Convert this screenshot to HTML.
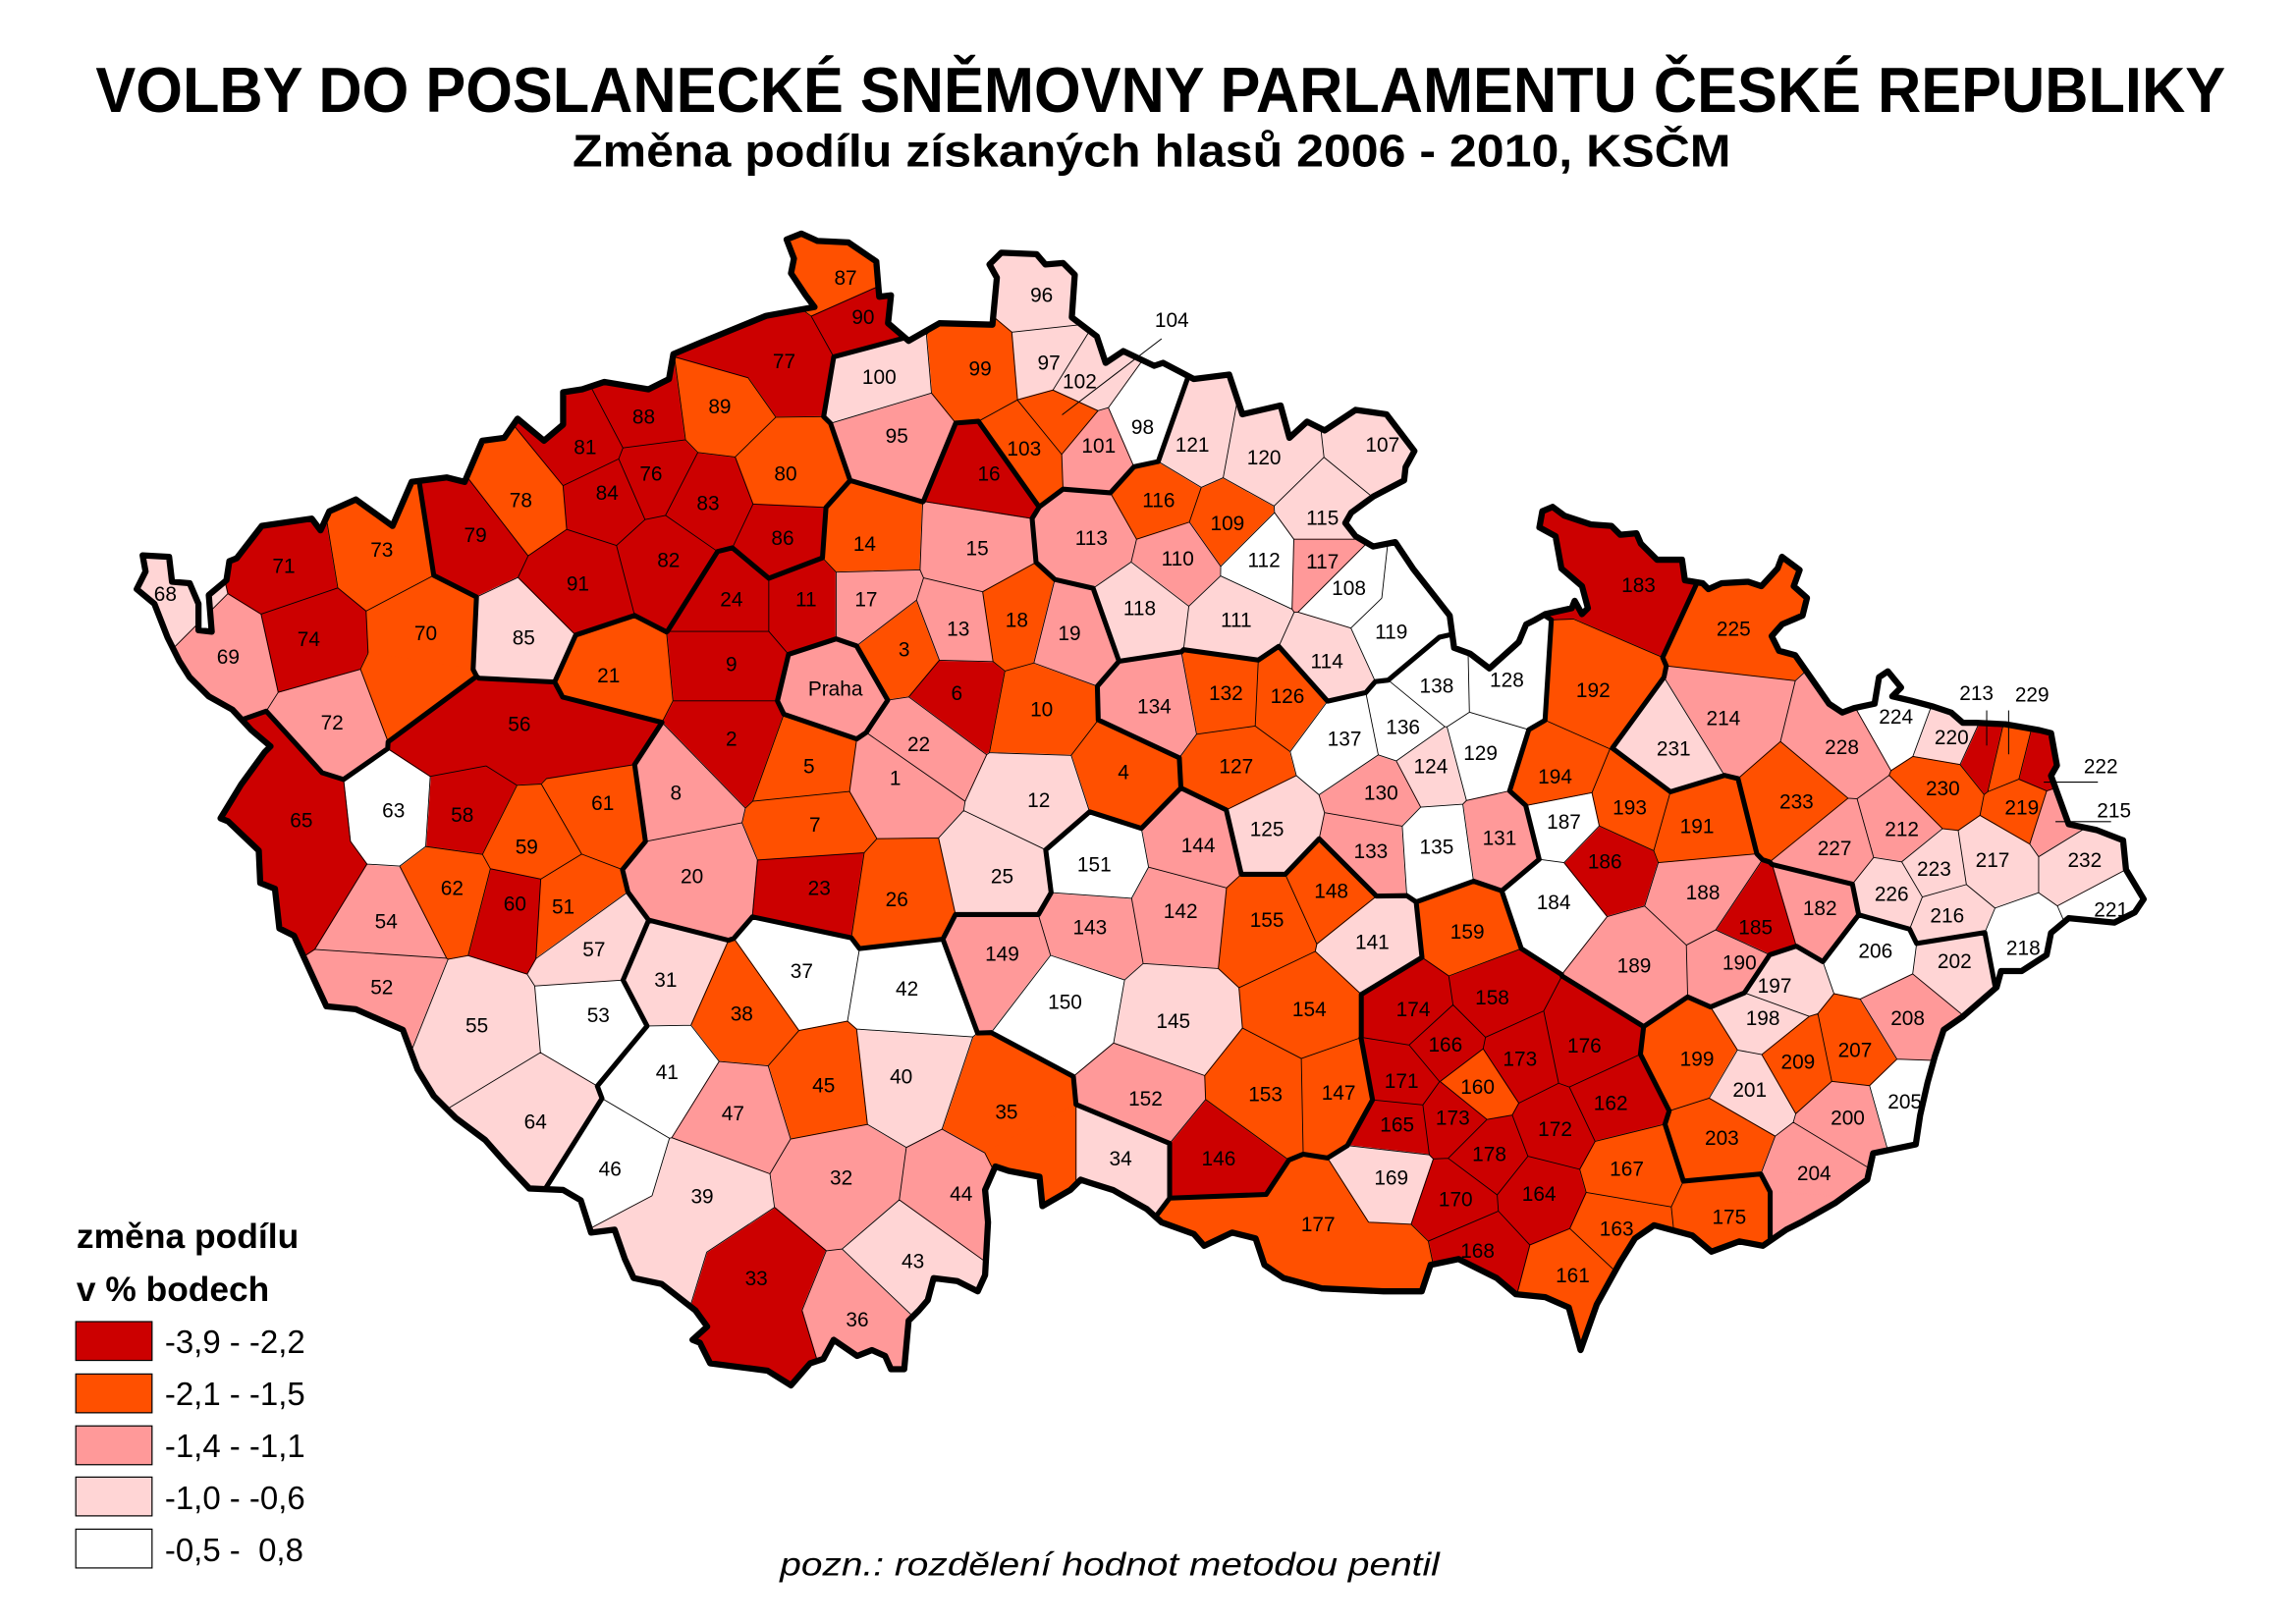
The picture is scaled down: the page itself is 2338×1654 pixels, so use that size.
<!DOCTYPE html>
<html><head><meta charset="utf-8"><style>
html,body{margin:0;padding:0;background:#fff;}
svg{display:block;}
text{font-family:"Liberation Sans",Arial,sans-serif;}
</style></head><body>
<svg id="m" width="2338" height="1654" viewBox="0 0 1560 1101" preserveAspectRatio="none" xmlns="http://www.w3.org/2000/svg">
<defs>
<clipPath id="cc"><polygon transform="matrix(1.005 0 0 1.004 0 -0.5)" points="97,377 115,378 117,395 129,396 135,410 135,428 144,429 142,404 154,394 156,381 161,379 178,357 212,352 218,360 224,347 242,339 267,357 280,327 304,324 316,327 328,299 343,297 352,284 370,299 383,288 383,266 396,264 411,259 441,264 455,257 458,240 477,232 521,214 554,208 548,200 538,185 540,175 535,162 545,158 556,163 577,164 596,177 598,201 606,200 604,219 618,231 639,219 675,220 678,188 673,179 681,171 705,172 711,179 723,178 731,186 729,215 746,228 752,246 764,238 785,248 791,246 812,257 836,254 845,281 871,275 877,297 889,286 901,292 922,278 943,281 962,306 956,317 955,326 934,337 919,348 915,355 922,364 934,371 949,368 961,386 986,418 989,440 1000,444 1013,454 1033,436 1038,424 1044,421 1051,417 1069,413 1071,408 1076,417 1080,413 1076,398 1062,386 1058,364 1047,358 1049,347 1056,344 1064,350 1082,356 1096,357 1102,363 1113,362 1116,369 1127,380 1144,380 1146,394 1158,396 1162,400 1171,396 1189,395 1198,398 1209,386 1212,378 1224,387 1220,398 1229,406 1226,418 1212,424 1205,432 1210,442 1221,445 1244,478 1253,484 1261,481 1275,478 1278,460 1284,456 1293,467 1287,473 1300,476 1315,480 1327,484 1335,491 1344,491 1364,492 1387,496 1395,498 1399,520 1395,527 1407,560 1426,564 1444,571 1446,591 1458,611 1452,620 1438,627 1407,624 1395,634 1392,649 1375,660 1361,660 1358,671 1335,691 1322,700 1316,718 1311,736 1306,758 1303,778 1274,784 1270,802 1248,818 1225,831 1215,836 1199,847 1183,844 1164,851 1151,840 1125,833 1112,842 1102,858 1086,887 1075,918 1067,889 1051,882 1031,880 1018,869 992,856 973,860 967,878 941,878 899,876 873,869 860,860 854,842 838,838 819,847 812,839 790,831 780,822 757,809 741,804 735,802 728,809 709,820 707,800 686,796 677,793 670,809 672,831 670,867 665,878 651,871 635,869 631,884 625,891 618,898 615,931 606,931 602,922 593,918 583,922 567,911 560,924 551,927 538,942 522,932 483,927 476,913 471,911 481,902 473,891 450,873 431,869 425,856 418,836 402,838 395,816 383,809 360,808 345,792 330,775 310,760 295,745 284,727 274,700 258,693 242,686 222,684 216,671 200,636 190,631 187,604 177,600 176,578 155,558 150,556 164,533 180,511 184,507 171,496 158,482 142,473 129,460 122,449 114,433 105,410 93,400 99,388"/></clipPath>
</defs>
<rect x="0" y="0" width="1560" height="1101" fill="#fff"/>

<text x="65" y="76" font-size="43" font-weight="bold" textLength="1447" lengthAdjust="spacingAndGlyphs">VOLBY DO POSLANECKÉ SNĚMOVNY PARLAMENTU ČESKÉ REPUBLIKY</text>
<text x="389" y="113" font-size="31" font-weight="bold" textLength="787" lengthAdjust="spacingAndGlyphs">Změna podílu získaných hlasů 2006 - 2010, KSČM</text>

<g transform="matrix(0.994 0 0 0.992 0 1.5)">
<g clip-path="url(#cc)">
<rect x="0" y="0" width="1560" height="1101" fill="#FFD5D5"/>
<g id="cells"></g>
<path id="thin" d="" stroke="#000" stroke-width="0.6" fill="none"/>
<path id="thick" d="" stroke="#000" stroke-width="3.4" stroke-linecap="round" stroke-linejoin="round" fill="none"/>
</g>
<polygon transform="matrix(1.005 0 0 1.004 0 -0.5)" fill="none" stroke="#000" stroke-width="4.2" stroke-linejoin="round" points="97,377 115,378 117,395 129,396 135,410 135,428 144,429 142,404 154,394 156,381 161,379 178,357 212,352 218,360 224,347 242,339 267,357 280,327 304,324 316,327 328,299 343,297 352,284 370,299 383,288 383,266 396,264 411,259 441,264 455,257 458,240 477,232 521,214 554,208 548,200 538,185 540,175 535,162 545,158 556,163 577,164 596,177 598,201 606,200 604,219 618,231 639,219 675,220 678,188 673,179 681,171 705,172 711,179 723,178 731,186 729,215 746,228 752,246 764,238 785,248 791,246 812,257 836,254 845,281 871,275 877,297 889,286 901,292 922,278 943,281 962,306 956,317 955,326 934,337 919,348 915,355 922,364 934,371 949,368 961,386 986,418 989,440 1000,444 1013,454 1033,436 1038,424 1044,421 1051,417 1069,413 1071,408 1076,417 1080,413 1076,398 1062,386 1058,364 1047,358 1049,347 1056,344 1064,350 1082,356 1096,357 1102,363 1113,362 1116,369 1127,380 1144,380 1146,394 1158,396 1162,400 1171,396 1189,395 1198,398 1209,386 1212,378 1224,387 1220,398 1229,406 1226,418 1212,424 1205,432 1210,442 1221,445 1244,478 1253,484 1261,481 1275,478 1278,460 1284,456 1293,467 1287,473 1300,476 1315,480 1327,484 1335,491 1344,491 1364,492 1387,496 1395,498 1399,520 1395,527 1407,560 1426,564 1444,571 1446,591 1458,611 1452,620 1438,627 1407,624 1395,634 1392,649 1375,660 1361,660 1358,671 1335,691 1322,700 1316,718 1311,736 1306,758 1303,778 1274,784 1270,802 1248,818 1225,831 1215,836 1199,847 1183,844 1164,851 1151,840 1125,833 1112,842 1102,858 1086,887 1075,918 1067,889 1051,882 1031,880 1018,869 992,856 973,860 967,878 941,878 899,876 873,869 860,860 854,842 838,838 819,847 812,839 790,831 780,822 757,809 741,804 735,802 728,809 709,820 707,800 686,796 677,793 670,809 672,831 670,867 665,878 651,871 635,869 631,884 625,891 618,898 615,931 606,931 602,922 593,918 583,922 567,911 560,924 551,927 538,942 522,932 483,927 476,913 471,911 481,902 473,891 450,873 431,869 425,856 418,836 402,838 395,816 383,809 360,808 345,792 330,775 310,760 295,745 284,727 274,700 258,693 242,686 222,684 216,671 200,636 190,631 187,604 177,600 176,578 155,558 150,556 164,533 180,511 184,507 171,496 158,482 142,473 129,460 122,449 114,433 105,410 93,400 99,388"/>

<g stroke="#000" stroke-width="0.7">
<line x1="794" y1="230" x2="726" y2="282"/>
<line x1="1358" y1="484" x2="1358" y2="508"/>
<line x1="1373" y1="484" x2="1373" y2="514"/>
<line x1="1397" y1="533" x2="1434" y2="533"/>
<line x1="1405" y1="560" x2="1443" y2="560"/>
</g>

<g font-size="14" text-anchor="middle" fill="#000">
<text x="571" y="474">Praha</text>
<text x="612" y="535">1</text><text x="500" y="508">2</text><text x="618" y="447">3</text><text x="768" y="531">4</text><text x="553" y="527">5</text><text x="654" y="477">6</text><text x="557" y="567">7</text><text x="462" y="545">8</text><text x="500" y="457">9</text><text x="712" y="488">10</text><text x="551" y="413">11</text><text x="710" y="550">12</text><text x="655" y="433">13</text><text x="591" y="375">14</text><text x="668" y="378">15</text><text x="676" y="327">16</text><text x="592" y="413">17</text><text x="695" y="427">18</text><text x="731" y="436">19</text><text x="473" y="602">20</text><text x="416" y="465">21</text><text x="628" y="512">22</text><text x="560" y="610">23</text><text x="500" y="413">24</text><text x="685" y="602">25</text><text x="613" y="618">26</text>
<text x="455" y="673">31</text><text x="575" y="808">32</text><text x="517" y="877">33</text><text x="766" y="795">34</text><text x="688" y="763">35</text><text x="586" y="905">36</text><text x="548" y="667">37</text><text x="507" y="696">38</text><text x="480" y="821">39</text><text x="616" y="739">40</text><text x="456" y="736">41</text><text x="620" y="679">42</text><text x="624" y="865">43</text><text x="657" y="819">44</text><text x="563" y="745">45</text><text x="417" y="802">46</text><text x="501" y="764">47</text>
<text x="385" y="623">51</text><text x="261" y="678">52</text><text x="409" y="697">53</text><text x="264" y="633">54</text><text x="326" y="704">55</text><text x="355" y="498">56</text><text x="406" y="652">57</text><text x="316" y="560">58</text><text x="360" y="582">59</text><text x="352" y="621">60</text><text x="412" y="552">61</text><text x="309" y="610">62</text><text x="269" y="557">63</text><text x="366" y="770">64</text><text x="206" y="564">65</text>
<text x="113" y="409">68</text><text x="156" y="452">69</text><text x="291" y="436">70</text><text x="194" y="390">71</text><text x="227" y="497">72</text><text x="261" y="379">73</text><text x="211" y="440">74</text>
<text x="445" y="327">76</text><text x="536" y="250">77</text><text x="356" y="345">78</text><text x="325" y="369">79</text><text x="537" y="327">80</text><text x="400" y="309">81</text><text x="457" y="386">82</text><text x="484" y="347">83</text><text x="415" y="340">84</text><text x="358" y="439">85</text><text x="535" y="371">86</text><text x="578" y="193">87</text><text x="440" y="288">88</text><text x="492" y="281">89</text><text x="590" y="220">90</text><text x="395" y="402">91</text>
<text x="613" y="301">95</text><text x="712" y="205">96</text><text x="717" y="251">97</text><text x="781" y="295">98</text><text x="670" y="255">99</text><text x="601" y="261">100</text><text x="751" y="308">101</text><text x="738" y="264">102</text><text x="700" y="310">103</text><text x="801" y="222">104</text>
<text x="945" y="307">107</text><text x="922" y="405">108</text><text x="839" y="361">109</text><text x="805" y="385">110</text><text x="845" y="427">111</text><text x="864" y="386">112</text><text x="746" y="371">113</text><text x="907" y="455">114</text><text x="904" y="357">115</text><text x="792" y="345">116</text><text x="904" y="387">117</text><text x="779" y="419">118</text><text x="951" y="435">119</text><text x="864" y="316">120</text><text x="815" y="307">121</text>
<text x="978" y="527">124</text><text x="866" y="570">125</text><text x="880" y="479">126</text><text x="845" y="527">127</text><text x="1030" y="468">128</text><text x="1012" y="518">129</text><text x="944" y="545">130</text><text x="1025" y="576">131</text><text x="838" y="477">132</text><text x="937" y="585">133</text><text x="789" y="486">134</text><text x="982" y="582">135</text><text x="959" y="500">136</text><text x="919" y="508">137</text><text x="982" y="472">138</text>
<text x="938" y="647">141</text><text x="807" y="626">142</text><text x="745" y="637">143</text><text x="819" y="581">144</text><text x="802" y="701">145</text><text x="833" y="795">146</text><text x="915" y="750">147</text><text x="910" y="612">148</text><text x="685" y="655">149</text><text x="728" y="688">150</text><text x="748" y="594">151</text><text x="783" y="754">152</text><text x="865" y="751">153</text><text x="895" y="693">154</text><text x="866" y="632">155</text>
<text x="1020" y="685">158</text><text x="1003" y="640">159</text><text x="1010" y="746">160</text><text x="1075" y="875">161</text><text x="1101" y="757">162</text><text x="1105" y="843">163</text><text x="1052" y="819">164</text><text x="955" y="772">165</text><text x="988" y="717">166</text><text x="1112" y="802">167</text><text x="1010" y="858">168</text><text x="951" y="808">169</text><text x="995" y="823">170</text><text x="958" y="742">171</text><text x="1063" y="775">172</text><text x="1039" y="727">173</text><text x="993" y="767">173</text><text x="966" y="693">174</text><text x="1182" y="835">175</text><text x="1083" y="718">176</text><text x="901" y="840">177</text><text x="1018" y="792">178</text>
<text x="1244" y="624">182</text><text x="1120" y="403">183</text><text x="1062" y="620">184</text><text x="1200" y="637">185</text><text x="1097" y="592">186</text><text x="1069" y="565">187</text><text x="1164" y="613">188</text><text x="1117" y="663">189</text><text x="1189" y="661">190</text><text x="1160" y="568">191</text><text x="1089" y="475">192</text><text x="1114" y="555">193</text><text x="1063" y="534">194</text>
<text x="1213" y="677">197</text><text x="1205" y="699">198</text><text x="1160" y="727">199</text><text x="1263" y="767">200</text><text x="1196" y="748">201</text><text x="1336" y="660">202</text><text x="1177" y="781">203</text><text x="1240" y="805">204</text><text x="1302" y="756">205</text><text x="1282" y="653">206</text><text x="1268" y="721">207</text><text x="1304" y="699">208</text><text x="1229" y="729">209</text>
<text x="1300" y="570">212</text><text x="1351" y="477">213</text><text x="1178" y="494">214</text><text x="1445" y="557">215</text><text x="1331" y="629">216</text><text x="1362" y="591">217</text><text x="1383" y="651">218</text><text x="1382" y="555">219</text><text x="1334" y="507">220</text><text x="1443" y="625">221</text><text x="1436" y="527">222</text><text x="1322" y="597">223</text><text x="1296" y="493">224</text><text x="1185" y="433">225</text><text x="1293" y="614">226</text><text x="1254" y="583">227</text><text x="1259" y="514">228</text><text x="1389" y="478">229</text><text x="1328" y="542">230</text><text x="1144" y="515">231</text><text x="1425" y="591">232</text><text x="1228" y="551">233</text>
</g>
</g>

<text x="52" y="846" font-size="23.5" font-weight="bold" textLength="151" lengthAdjust="spacingAndGlyphs">změna podílu</text>
<text x="52" y="882" font-size="23.5" font-weight="bold" textLength="131" lengthAdjust="spacingAndGlyphs">v % bodech</text>
<g stroke="#000" stroke-width="0.8">
<rect x="51.5" y="896" width="51.8" height="26.3" fill="#CC0000"/>
<rect x="51.5" y="931.5" width="51.8" height="26.3" fill="#FF5000"/>
<rect x="51.5" y="966.7" width="51.8" height="26.3" fill="#FF9999"/>
<rect x="51.5" y="1001.4" width="51.8" height="26.3" fill="#FFD5D5"/>
<rect x="51.5" y="1036.7" width="51.8" height="26.3" fill="#FFFFFF"/>
</g>
<g font-size="22" fill="#000">
<text x="112" y="917.3">-3,9 - -2,2</text>
<text x="112" y="952.6">-2,1 - -1,5</text>
<text x="112" y="987.9">-1,4 - -1,1</text>
<text x="112" y="1023.2">-1,0 - -0,6</text>
<text x="112" y="1058.5">-0,5 -&#160; 0,8</text>
</g>
<text x="530" y="1068" font-size="22" font-style="italic" textLength="448" lengthAdjust="spacingAndGlyphs">pozn.: rozdělení hodnot metodou pentil</text>
</svg>
<script>
(function(){
var D="1,612,530,3,S 2,500,503,1,S 3,618,442,2,S 4,768,526,2,S 5,553,522,2,S 6,654,472,1,S 7,557,562,2,S 8,462,540,3,S 9,500,452,1,S 10,712,483,2,S 11,551,408,1,S 12,710,545,4,S 13,655,428,3,S 14,591,370,2,S 15,668,373,3,S 16,676,322,1,S 17,592,408,3,S 18,695,422,2,S 19,731,431,3,S 20,473,597,3,S 21,416,460,2,S 22,628,507,3,S 23,560,605,1,S 24,500,408,1,S 25,685,597,4,S 26,613,613,2,S "+
"Praha,571,469,3,P "+
"31,455,668,4,J 32,575,803,3,J 33,517,872,1,J 34,766,790,4,J 35,688,758,2,J 36,586,900,3,J 37,548,662,5,J 38,507,691,2,J 39,480,816,4,J 40,616,734,4,J 41,456,731,5,J 42,620,674,5,J 43,624,860,4,J 44,657,814,3,J 45,563,740,2,J 46,417,797,5,J 47,501,759,3,J 33,520,920,1,J 39,445,850,4,J 35,705,790,2,J "+
"51,385,618,2,N 52,261,673,3,N 53,409,692,5,N 54,264,628,3,N 55,326,699,4,N 56,355,493,1,N 57,406,647,4,N 58,316,555,1,N 59,360,577,2,N 60,352,616,1,N 61,412,547,2,N 62,309,605,2,N 63,269,552,5,N 64,366,765,4,N 65,206,559,1,N 65,185,530,1,N 65,210,595,1,N 56,305,497,1,N 56,405,503,1,N "+
"68,113,404,4,K 69,156,447,3,K 70,291,431,2,K 71,194,385,1,K 72,227,492,3,K 73,261,374,2,K 74,211,435,1,K 70,285,470,2,K "+
"76,445,322,1,U 77,536,245,1,U 78,356,340,2,U 79,325,364,1,U 80,537,322,2,U 81,400,304,1,U 82,457,381,1,U 83,484,342,1,U 84,415,335,1,U 85,358,434,4,U 86,535,366,1,U 87,578,188,2,U 88,440,283,1,U 89,492,276,2,U 90,590,215,1,U 91,395,397,1,U 77,505,230,1,U "+
"95,613,296,3,L 96,712,200,4,L 97,717,246,4,L 98,781,290,5,L 99,670,250,2,L 100,601,256,4,L 101,751,303,3,L 102,738,259,4,L 103,700,305,2,L 104,727,283,2,L "+
"107,945,302,4,H 108,922,400,5,H 109,839,356,2,H 110,805,380,3,H 111,845,422,4,H 112,864,381,5,H 113,746,366,3,H 114,907,450,4,H 115,904,352,4,H 116,792,340,2,H 117,904,382,3,H 118,779,414,4,H 119,951,430,5,H 120,864,311,4,H 121,815,302,4,H 119,968,405,5,H "+
"124,978,522,4,A 125,866,565,4,A 126,880,474,2,A 127,845,522,2,A 128,1026,466,5,A 129,1012,513,5,A 130,944,540,3,A 131,1025,571,3,A 132,838,472,2,A 133,937,580,3,A 134,789,481,3,A 135,982,577,5,A 136,959,495,5,A 137,919,503,5,A 138,982,467,5,A "+
"141,938,642,4,V 142,807,621,3,V 143,745,632,3,V 144,819,576,3,V 145,802,696,4,V 146,833,790,1,V 147,915,745,2,V 148,910,607,2,V 149,685,650,3,V 150,728,683,5,V 151,748,589,5,V 152,783,749,3,V 153,865,746,2,V 154,895,688,2,V 155,866,627,2,V "+
"158,1020,680,1,M 159,1003,635,2,M 160,1010,741,2,M 161,1075,870,2,M 162,1101,752,1,M 163,1105,838,2,M 164,1052,814,1,M 165,955,767,1,M 166,988,712,1,M 167,1112,797,2,M 168,1010,853,1,M 169,951,803,4,M 170,995,818,1,M 171,958,737,1,M 172,1063,770,1,M 173,1039,722,1,M 173,993,762,1,M 174,966,688,1,M 175,1182,830,2,M 176,1083,713,1,M 177,901,835,2,M 178,1018,787,1,M 177,835,842,2,M 177,948,866,2,M 161,1077,905,2,M "+
"182,1244,619,3,O 183,1120,398,1,O 184,1062,615,5,O 185,1200,632,1,O 186,1097,587,1,O 187,1069,560,5,O 188,1164,608,3,O 189,1117,658,3,O 190,1189,656,3,O 191,1160,563,2,O 192,1089,470,2,O 193,1114,550,2,O 194,1063,529,2,O 183,1085,372,1,O "+
"197,1213,672,4,Z 198,1205,694,4,Z 199,1160,722,2,Z 200,1263,762,3,Z 201,1196,743,4,Z 202,1336,655,4,Z 203,1177,776,2,Z 204,1240,800,3,Z 205,1302,751,5,Z 206,1282,648,5,Z 207,1268,716,2,Z 208,1304,694,3,Z 209,1229,724,2,Z 204,1238,830,3,Z "+
"212,1300,565,3,X 213,1358,513,1,X 214,1178,489,3,X 215,1406,555,3,X 216,1331,624,4,X 217,1362,586,4,X 218,1383,646,5,X 219,1384,548,2,X 220,1334,502,4,X 221,1443,620,5,X 222,1395,522,1,X 223,1322,592,4,X 224,1296,488,5,X 225,1185,428,2,X 226,1293,609,4,X 227,1254,578,3,X 228,1259,509,3,X 229,1371,516,2,X 230,1328,537,2,X 231,1144,510,4,X 232,1425,586,4,X 233,1228,546,2,X";
var S=D.trim().split(/\s+/).map(function(t){var a=t.split(',');return {id:a[0],x:+a[1],y:+a[2],c:+a[3],r:a[4]};});
var C=['','#CC0000','#FF5000','#FF9999','#FFD5D5','#FFFFFF'];
var W=1560,H=1101,NS='http://www.w3.org/2000/svg';
function clip(p,a,b,c,lab){var o=[],n=p.length;for(var k=0;k<n;k++){var P=p[k],Q=p[(k+1)%n];var dp=a*P.x+b*P.y-c,dq=a*Q.x+b*Q.y-c;if(dp<=0){o.push(P);if(dq>0){var t=dp/(dp-dq);o.push({x:P.x+t*(Q.x-P.x),y:P.y+t*(Q.y-P.y),l:lab});}}else if(dq<=0){var t2=dp/(dp-dq);o.push({x:P.x+t2*(Q.x-P.x),y:P.y+t2*(Q.y-P.y),l:P.l});}}return o;}
var cells=document.getElementById('cells');
var dThin='',dThick='';
function f(v){return v.x.toFixed(1)+','+v.y.toFixed(1);}
for(var i=0;i<S.length;i++){
 var s=S[i];
 var p=[{x:-50,y:-50,l:-1},{x:W+50,y:-50,l:-1},{x:W+50,y:H+50,l:-1},{x:-50,y:H+50,l:-1}];
 for(var j=0;j<S.length&&p.length>2;j++){if(j===i)continue;var t=S[j];var a=t.x-s.x,b=t.y-s.y;if(!a&&!b)continue;var c=a*(s.x+t.x)/2+b*(s.y+t.y)/2;p=clip(p,a,b,c,j);}
 if(p.length<3)continue;
 var d='M'+p.map(f).join('L')+'Z';
 var e=document.createElementNS(NS,'path');
 e.setAttribute('d',d);e.setAttribute('fill',C[s.c]);e.setAttribute('stroke',C[s.c]);e.setAttribute('stroke-width','0.8');
 cells.appendChild(e);
 for(var k=0;k<p.length;k++){var L=p[k].l;if(L<=i)continue;var q=p[(k+1)%p.length];var seg='M'+f(p[k])+'L'+f(q);var o=S[L];if(o.r!==s.r)dThick+=seg;else if(o.id!==s.id)dThin+=seg;}
}
document.getElementById('thin').setAttribute('d',dThin);
document.getElementById('thick').setAttribute('d',dThick);
})();
</script>
</body></html>
